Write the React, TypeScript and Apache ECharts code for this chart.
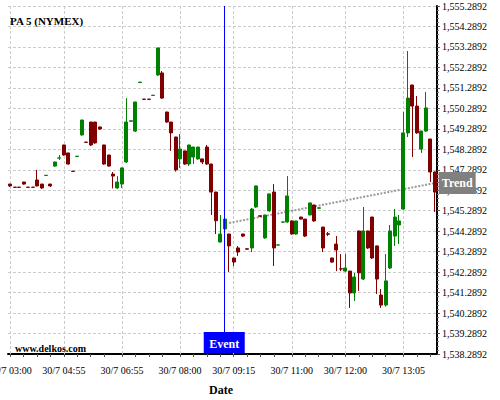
import React, { useEffect, useRef } from 'react';
import * as echarts from 'echarts';

const FONT = '"Liberation Serif", "Times New Roman", serif';
const OFFSET = 0.2892;
const Y_LOW = 1538.2892;
const Y_HIGH = 1555.2892;

const opens = [
  1546.59, 1546.44, 1546.44, 1546.69, 1546.44, 1546.44, 1546.79, 1546.59, 1547.01, 1546.59,
  1547.47, 1547.86, 1548.50, 1548.11, 1547.22, 1547.94, 1548.99, 1548.64, 1549.62, 1549.62,
  1549.38, 1548.50, 1548.01, 1547.08, 1546.40, 1546.59, 1547.67, 1549.66, 1549.18, 1551.55,
  1550.74, 1550.74, 1550.92, 1551.92, 1552.02, 1550.11, 1549.62, 1548.89, 1547.82, 1548.21,
  1547.57, 1547.91, 1547.82, 1547.82, 1548.40, 1547.57, 1546.20, 1543.76, 1544.40, 1544.15,
  1542.98, 1543.47, 1544.15, 1543.43, 1543.47, 1545.47, 1545.04, 1543.96, 1545.28, 1546.20,
  1543.61, 1544.73, 1544.74, 1544.79, 1544.15, 1544.98, 1544.88, 1545.08, 1545.57, 1545.41,
  1544.49, 1544.16, 1542.98, 1543.66, 1542.45, 1542.34, 1542.34, 1541.27, 1544.30, 1541.95,
  1544.30, 1544.98, 1543.57, 1541.17, 1540.68, 1542.49, 1544.05, 1544.59, 1545.37, 1549.09,
  1551.43, 1550.40, 1548.30, 1549.18, 1548.79, 1547.18,
];
const closes = [
  1546.50, 1546.43, 1546.43, 1546.59, 1546.43, 1546.43, 1546.50, 1546.40, 1547.02, 1546.50,
  1547.67, 1547.87, 1548.01, 1547.57, 1547.21, 1547.95, 1549.72, 1548.63, 1548.50, 1548.60,
  1549.28, 1547.57, 1547.47, 1546.98, 1546.69, 1547.38, 1549.62, 1549.68, 1550.60, 1551.57,
  1550.73, 1550.73, 1550.93, 1553.24, 1550.79, 1549.62, 1549.09, 1547.28, 1548.30, 1547.57,
  1548.50, 1548.40, 1548.40, 1547.67, 1547.57, 1546.20, 1544.80, 1544.15, 1544.88, 1543.57,
  1542.78, 1543.27, 1544.05, 1543.41, 1545.37, 1546.50, 1545.02, 1545.08, 1546.11, 1543.47,
  1543.62, 1544.74, 1546.01, 1544.15, 1544.79, 1544.88, 1544.05, 1545.67, 1544.79, 1545.43,
  1543.47, 1544.14, 1542.78, 1543.37, 1542.44, 1542.49, 1541.27, 1542.05, 1542.25, 1544.30,
  1543.47, 1542.98, 1541.95, 1540.68, 1541.86, 1544.30, 1544.98, 1544.79, 1549.09, 1550.79,
  1550.40, 1549.09, 1549.18, 1550.31, 1547.18, 1546.20,
];
const lows = [
  1546.45, 1546.42, 1546.42, 1546.56, 1546.42, 1546.42, 1546.47, 1546.35, 1547.00, 1546.45,
  1547.43, 1547.77, 1547.98, 1547.54, 1547.20, 1547.93, 1548.95, 1548.62, 1548.45, 1548.56,
  1549.24, 1547.53, 1547.44, 1546.38, 1546.36, 1546.40, 1547.62, 1549.65, 1549.14, 1551.54,
  1550.72, 1550.72, 1550.91, 1551.88, 1550.75, 1549.58, 1548.21, 1547.20, 1547.38, 1547.53,
  1547.47, 1547.57, 1547.78, 1547.57, 1547.53, 1545.08, 1544.15, 1543.73, 1544.35, 1542.30,
  1542.59, 1543.08, 1544.00, 1543.40, 1543.27, 1545.43, 1545.01, 1543.92, 1545.24, 1542.59,
  1543.60, 1544.72, 1544.70, 1544.12, 1544.12, 1544.87, 1544.00, 1545.07, 1544.75, 1545.40,
  1543.27, 1544.05, 1542.74, 1542.34, 1542.34, 1542.30, 1540.54, 1540.88, 1541.37, 1541.90,
  1543.42, 1542.93, 1541.22, 1540.54, 1540.60, 1542.44, 1543.57, 1543.66, 1545.33, 1548.89,
  1547.91, 1549.05, 1548.11, 1549.14, 1546.69, 1545.23,
];
const highs = [
  1546.60, 1546.45, 1546.45, 1546.70, 1546.45, 1546.45, 1547.28, 1546.60, 1547.03, 1546.60,
  1547.68, 1548.01, 1548.51, 1548.12, 1547.23, 1547.96, 1549.73, 1548.65, 1549.63, 1549.63,
  1549.39, 1548.51, 1548.02, 1547.18, 1546.98, 1547.39, 1550.79, 1549.69, 1550.61, 1551.58,
  1550.75, 1550.75, 1550.94, 1553.25, 1552.11, 1550.12, 1549.63, 1548.90, 1549.04, 1548.22,
  1548.51, 1548.41, 1548.41, 1547.83, 1548.50, 1547.58, 1546.21, 1545.08, 1544.89, 1544.16,
  1542.99, 1543.56, 1544.16, 1543.44, 1545.42, 1546.51, 1545.05, 1545.09, 1546.12, 1546.59,
  1543.63, 1544.75, 1546.98, 1544.82, 1544.80, 1544.99, 1544.89, 1545.68, 1545.58, 1545.44,
  1544.50, 1544.25, 1542.99, 1544.05, 1543.17, 1543.17, 1542.35, 1542.25, 1544.31, 1545.47,
  1544.31, 1544.99, 1543.58, 1541.46, 1543.17, 1544.59, 1545.37, 1545.08, 1550.11, 1553.09,
  1551.44, 1550.89, 1549.19, 1551.09, 1548.80, 1547.20,
];

const tickIndices = [0, 12, 25, 38, 50, 63, 75, 88];
const tickLabels = ['30/7 03:00', '30/7 04:55', '30/7 06:55', '30/7 08:00', '30/7 09:15', '30/7 11:00', '30/7 12:00', '30/7 13:05'];
const eventIndex = 48;
const trendIndices = [49, 95];
const trendValues = [1544.69, 1546.64];

const categories = opens.map((_, i) => String(i));
const labelMap = new Map<number, string>(tickIndices.map((idx, k) => [idx, tickLabels[k]]));
const minorTickSet = new Set<number>();
tickIndices.forEach((idx, k) => {
  const next = k + 1 < tickIndices.length ? tickIndices[k + 1] : opens.length;
  for (let i = idx; i < next - 1; i += 3) minorTickSet.add(i);
});

const fmtPrice = (v: number) =>
  v.toLocaleString('en-US', { minimumFractionDigits: 4, maximumFractionDigits: 4 });

export default function App() {
  const ref = useRef<HTMLDivElement>(null);
  useEffect(() => {
    if (!ref.current) return;
    const chart = echarts.init(ref.current, null, { renderer: 'svg' });
    const axisMin = Math.round(Y_LOW - OFFSET);
    const axisMax = Math.round(Y_HIGH - OFFSET);
    const candleData = opens.map((o, i) => [
      o - OFFSET, closes[i] - OFFSET, lows[i] - OFFSET, highs[i] - OFFSET,
    ]);
    const trendData = categories.map((_, i) => {
      const k = trendIndices.indexOf(i);
      return k >= 0 ? trendValues[k] - OFFSET : null;
    });
    chart.setOption({
      animation: false,
      textStyle: { fontFamily: FONT },
      grid: { left: 8, right: 63, top: 6, bottom: 46, containLabel: false, outerBoundsMode: 'none' },
      xAxis: {
        type: 'category',
        data: categories,
        boundaryGap: true,
        axisLine: { show: true, lineStyle: { color: '#000', width: 2 } },
        axisTick: {
          show: true,
          alignWithLabel: true,
          length: 3,
          interval: (index: number) => minorTickSet.has(index),
          lineStyle: { color: '#555' },
        },
        axisLabel: {
          interval: (index: number) => labelMap.has(index),
          formatter: (value: string) => labelMap.get(Number(value)) ?? '',
          fontSize: 10,
          color: '#000',
          fontFamily: FONT,
          margin: 11,
        },
        splitLine: { show: false },
      },
      yAxis: {
        type: 'value',
        position: 'right',
        min: axisMin,
        max: axisMax,
        interval: 1,
        axisLine: { show: true, lineStyle: { color: '#000', width: 2 } },
        axisTick: { show: true, length: 3, lineStyle: { color: '#555' } },
        minorTick: { show: true, splitNumber: 5, length: 2, lineStyle: { color: '#777' } },
        axisLabel: {
          margin: 5,
          fontSize: 10,
          color: '#000',
          fontFamily: FONT,
          formatter: (v: number) => fmtPrice(v + OFFSET),
        },
        splitLine: { show: true, lineStyle: { color: '#cccccc', type: [3, 2], width: 1 } },
      },
      series: [
        {
          type: 'line',
          data: trendData,
          connectNulls: true,
          showSymbol: false,
          symbol: 'none',
          z: 2,
          lineStyle: { color: '#9a9a9a', width: 2, type: [2, 1.5] },
          endLabel: {
            show: true,
            formatter: 'Trend',
            color: '#fff',
            fontWeight: 'bold',
            fontSize: 12,
            fontFamily: FONT,
            backgroundColor: '#808080',
            padding: [5, 3, 5, 3],
            lineHeight: 12,
            distance: 4,
          },
          markLine: {
            silent: true,
            symbol: 'none',
            z: 1,
            label: { show: false },
            lineStyle: { color: '#cccccc', type: [3, 2], width: 1 },
            data: tickIndices.map((i) => ({ xAxis: i })),
          },
        },
        {
          type: 'candlestick',
          data: candleData,
          barWidth: 3.5,
          z: 3,
          itemStyle: {
            color: '#008000',
            color0: '#800000',
            borderColor: '#008000',
            borderColor0: '#800000',
            borderWidth: 1,
          },
          markLine: {
            silent: true,
            symbol: 'none',
            label: { show: false },
            lineStyle: { color: '#0000ff', width: 1, type: 'solid' },
            data: [{ xAxis: eventIndex }],
          },
        },
      ],
    });
    const ex = chart.convertToPixel({ xAxisIndex: 0 }, eventIndex) as number;
    const yb = chart.convertToPixel({ yAxisIndex: 0 }, axisMin) as number;
    chart.setOption({
      graphic: [
        {
          type: 'text', x: 10, y: 21, z: 10,
          style: { text: 'PA 5 (NYMEX)', font: `bold 11px ${FONT}`, fill: '#000', verticalAlign: 'middle', align: 'left' },
        },
        {
          type: 'text', x: 15, y: 348, z: 10,
          style: { text: 'www.delkos.com', font: `bold 10px ${FONT}`, fill: '#000', verticalAlign: 'middle', align: 'left' },
        },
        {
          type: 'text', x: 221, y: 390, z: 10,
          style: { text: 'Date', font: `bold 12px ${FONT}`, fill: '#000', verticalAlign: 'middle', align: 'center' },
        },
        {
          type: 'rect', z: 10,
          shape: { x: ex - 21, y: yb - 22, width: 41, height: 21 },
          style: { fill: '#0000ff' },
        },
        {
          type: 'text', x: ex - 0.5, y: yb - 10, z: 11,
          style: { text: 'Event', font: `bold 12px ${FONT}`, fill: '#fff', verticalAlign: 'middle', align: 'center' },
        },
      ],
    });
    return () => chart.dispose();
  }, []);
  return <div ref={ref} style={{ position: 'absolute', left: 0, top: 0, width: 500, height: 400 }} />;
}
